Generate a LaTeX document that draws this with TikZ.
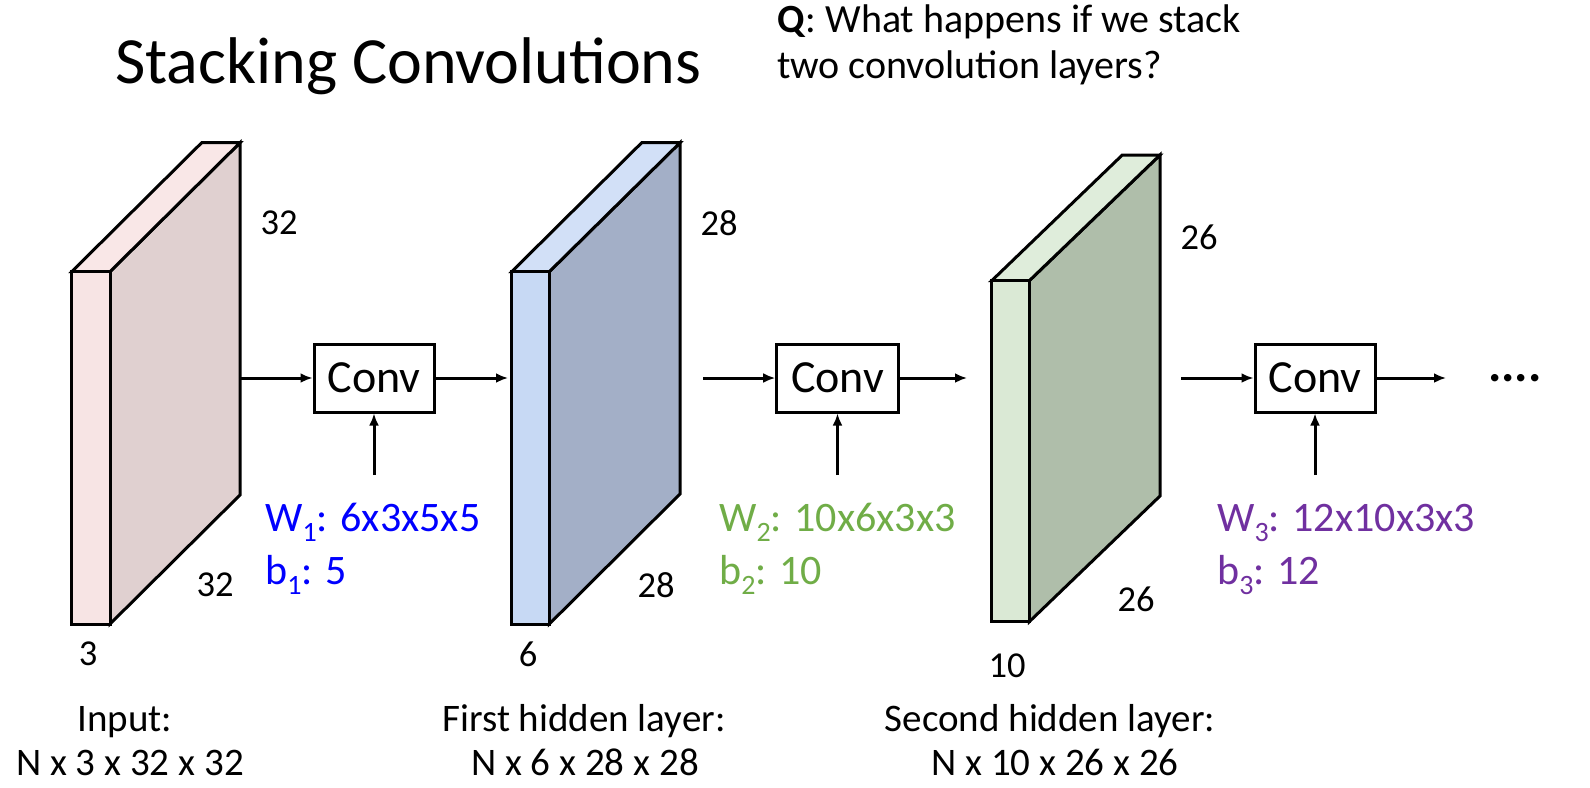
\documentclass[tikz,border=0pt]{standalone}
\usepackage{fontspec}
\setmainfont{Carlito}
\usetikzlibrary{arrows.meta}
\definecolor{pinkfront}{RGB}{247,228,228}
\definecolor{pinktop}{RGB}{249,231,231}
\definecolor{pinkside}{RGB}{224,208,208}
\definecolor{bluefront}{RGB}{199,217,244}
\definecolor{bluetop}{RGB}{210,224,247}
\definecolor{blueside}{RGB}{163,175,199}
\definecolor{greenfront}{RGB}{218,233,213}
\definecolor{greentop}{RGB}{223,237,219}
\definecolor{greenside}{RGB}{175,190,170}
\definecolor{wblue}{RGB}{0,0,255}
\definecolor{wgreen}{RGB}{112,173,71}
\definecolor{wpurple}{RGB}{112,48,160}
\newcommand{\sbs}[1]{\raisebox{-0.24em}{\fontsize{28}{28}\selectfont #1}}
\begin{document}
\begin{tikzpicture}[x=1pt,y=-1pt,
  convbox/.style={draw, line width=3pt, minimum width=120pt, minimum height=68pt, inner sep=0pt, font=\fontsize{46}{54}\selectfont},
  flow/.style={-{Latex[length=12pt,width=10pt]}, line width=3pt},
  dimlabel/.style={inner sep=0pt, font=\fontsize{36.5}{44}\selectfont},
  wlabel/.style={anchor=base west, inner sep=0pt, font=\fontsize{42}{50}\selectfont},
  caption/.style={anchor=base, inner sep=0pt, font=\fontsize{39}{47}\selectfont},
  face/.style={draw=black, line width=3pt}]
\useasboundingbox (0,0) rectangle (1590,787);
\fill[white] (0,0) rectangle (1590,787);

% title and question
\node[anchor=base west, inner sep=0pt, font=\fontsize{66}{72}\selectfont] (title) at (115,83) {Stacking Convolutions};
\node[anchor=base west, inner sep=0pt, font=\fontsize{40}{46}\selectfont] (q1) at (777,32) {\textbf{Q}: What happens if we stack};
\node[anchor=base west, inner sep=0pt, font=\fontsize{40}{46}\selectfont] (q2) at (777,78) {two convolution layers?};

% block 1
\fill[pinkside,face] (110,271.7) -- (240,142.7) -- (240,495) -- (110,624) -- cycle;
\fill[pinktop,face] (71.7,271.7) -- (201.7,142.7) -- (240,142.7) -- (110,271.7) -- cycle;
\fill[pinkfront,face] (71.7,271.7) rectangle (110,624);
% block 2
\fill[blueside,face] (549.3,271.7) -- (680,142.7) -- (680,494) -- (549.3,624) -- cycle;
\fill[bluetop,face] (511.7,271.7) -- (641.7,142.7) -- (680,142.7) -- (549.3,271.7) -- cycle;
\fill[bluefront,face] (511.7,271.7) rectangle (549.3,624);
% block 3
\fill[greenside,face] (1029.3,280.7) -- (1160,155) -- (1160,496) -- (1029.3,621.7) -- cycle;
\fill[greentop,face] (991.7,280.7) -- (1122.3,155) -- (1160,155) -- (1029.3,280.7) -- cycle;
\fill[greenfront,face] (991.7,280.7) rectangle (1029.3,621.7);

% dimension labels
\node[dimlabel] (d1a) at (279,223) {32};
\node[dimlabel] (d1b) at (215,585) {32};
\node[dimlabel] (d1c) at (88,654) {3};
\node[dimlabel] (d2a) at (719,223) {28};
\node[dimlabel] (d2b) at (656,585) {28};
\node[dimlabel] (d2c) at (528,654) {6};
\node[dimlabel] (d3a) at (1199,237) {26};
\node[dimlabel] (d3b) at (1136,599) {26};
\node[dimlabel] (d3c) at (1007,666) {10};

% conv boxes
\node[convbox] (conv1) at (374,378) {Conv};
\node[convbox, minimum width=121.6pt] (conv2) at (837.5,378) {Conv};
\node[convbox] (conv3) at (1315,378) {Conv};

\coordinate (b1out) at (240,378);
\coordinate (b2in) at (508,378);
\coordinate (b2out) at (703,378);
\coordinate (b3in) at (967,378);
\coordinate (b3out) at (1181,378);
\coordinate (next) at (1446,378);
\coordinate (p1) at (374,475);
\coordinate (p2) at (837.5,475);
\coordinate (p3) at (1315,475);

\draw[flow] (b1out) -- (conv1);
\draw[flow] (conv1) -- (b2in);
\draw[flow] (b2out) -- (conv2);
\draw[flow] (conv2) -- (b3in);
\draw[flow] (b3out) -- (conv3);
\draw[flow] (conv3) -- (next);
\draw[flow] (p1) -- (conv1.south);
\draw[flow] (p2) -- (conv2.south);
\draw[flow] (p3) -- (conv3.south);

\node[anchor=base west, inner sep=0pt, font=\fontsize{50}{56}\selectfont] (dots) at (1488,381) {\textbf{....}};

% weights
\node[wlabel, text=wblue] (w1) at (265,531) {W\sbs{1}: 6x3x5x5};
\node[wlabel, text=wblue] (bb1) at (265,584) {b\sbs{1}: 5};
\node[wlabel, text=wgreen] (w2) at (719,531) {W\sbs{2}: 10x6x3x3};
\node[wlabel, text=wgreen] (bb2) at (719,584) {b\sbs{2}: 10};
\node[wlabel, text=wpurple] (w3) at (1217,531) {W\sbs{3}: 12x10x3x3};
\node[wlabel, text=wpurple] (bb3) at (1217,584) {b\sbs{3}: 12};

% captions
\node[caption] (c1a) at (125,731) {Input:};
\node[caption] (c1b) at (130,775) {N x 3 x 32 x 32};
\node[caption] (c2a) at (584,731) {First hidden layer:};
\node[caption] (c2b) at (585,775) {N x 6 x 28 x 28};
\node[caption] (c3a) at (1050,731) {Second hidden layer:};
\node[caption] (c3b) at (1055,775) {N x 10 x 26 x 26};
\end{tikzpicture}
\end{document}
